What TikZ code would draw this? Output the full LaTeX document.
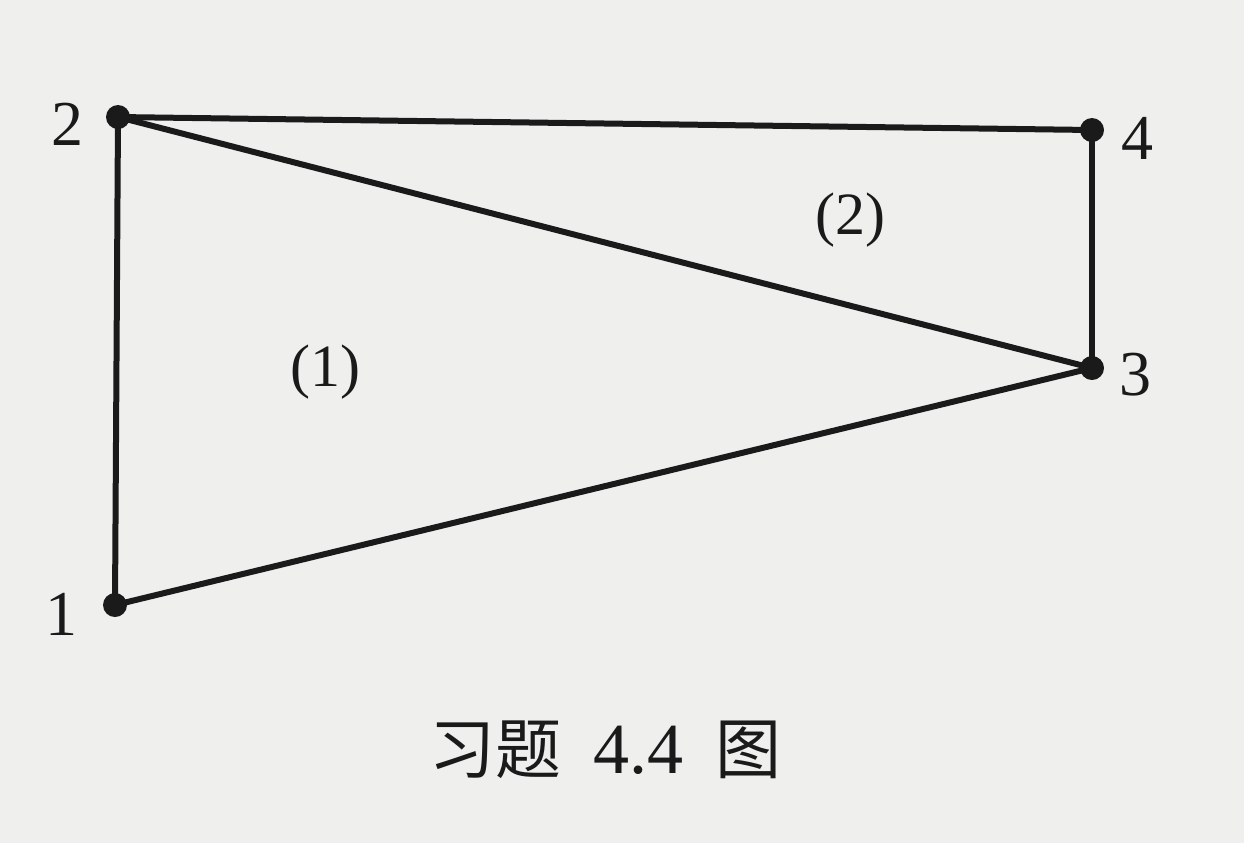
\documentclass[tikz,border=0pt]{standalone}
\usepackage{fontspec}
\setmainfont{Liberation Serif}
\newfontfamily\cjk{Noto Sans CJK SC}
\definecolor{paper}{HTML}{EFEFED}
\definecolor{ink}{HTML}{1A1A1A}
\begin{document}
\begin{tikzpicture}[x=0.5pt,y=-0.5pt,
  vtx/.style={circle,fill=ink,inner sep=0pt,minimum size=12pt},
  edge/.style={draw=ink,line width=3pt,line cap=round},
  lbl/.style={text=ink,font=\fontsize{32}{36}\selectfont,inner sep=0pt},
  reg/.style={text=ink,font=\fontsize{30}{34}\selectfont,inner sep=0pt}]
\fill[paper] (0,0) rectangle (1244,843);
\useasboundingbox (0,0) rectangle (1244,843);
\node[vtx] (v2) at (118,117) {};
\node[vtx] (v4) at (1092,130) {};
\node[vtx] (v3) at (1092,368) {};
\node[vtx] (v1) at (115,605) {};
\draw[edge] (v2.center) -- (v4.center);
\draw[edge] (v4.center) -- (v3.center);
\draw[edge] (v2.center) -- (v3.center);
\draw[edge] (v3.center) -- (v1.center);
\draw[edge] (v1.center) -- (v2.center);
\node[lbl] (l2) at (68,124) {2};
\node[lbl] (l4) at (1137,138) {4};
\node[lbl] (l3) at (1135,375) {3};
\node[lbl] (l1) at (62,614) {1};
\node[reg] (r2) at (850,220) {(2)};
\node[reg] (r1) at (325,372) {(1)};
\node[text=ink,inner sep=0pt] (cap) at (605,750) {{\cjk\fontsize{33}{38}\selectfont 习题}\hspace{16pt}{\fontsize{36}{40}\selectfont 4.4}\hspace{16pt}{\cjk\fontsize{33}{38}\selectfont 图}};
\end{tikzpicture}
\end{document}
